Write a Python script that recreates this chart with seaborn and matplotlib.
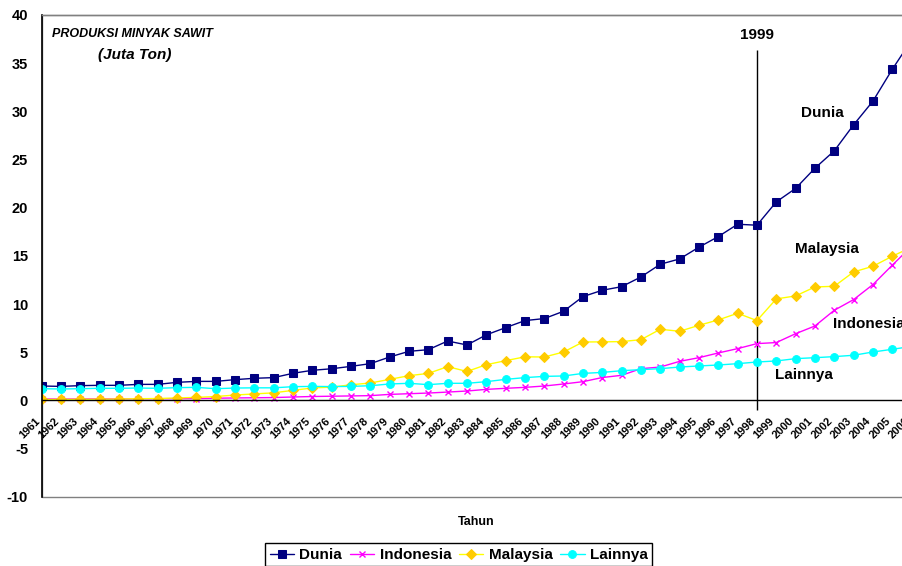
import matplotlib
matplotlib.use("Agg")
import matplotlib.pyplot as plt
import pandas as pd
import seaborn as sns
from matplotlib.patches import Rectangle
from matplotlib.transforms import ScaledTranslation

# Produksi minyak sawit (juta ton), 1961-2006
tahun = list(range(1961, 2007))

dunia = [1.49, 1.45, 1.53, 1.56, 1.56, 1.66, 1.66, 1.87, 1.97, 1.97,
         2.15, 2.29, 2.36, 2.81, 3.12, 3.28, 3.53, 3.81, 4.50, 5.09,
         5.26, 6.16, 5.75, 6.80, 7.55, 8.28, 8.49, 9.25, 10.77, 11.43,
         11.80, 12.81, 14.13, 14.68, 15.90, 17.00, 18.28, 18.18, 20.60, 22.00,
         24.10, 25.90, 28.60, 31.06, 34.36, 37.40]

indonesia = [0.15, 0.14, 0.15, 0.16, 0.16, 0.17, 0.17, 0.18, 0.19, 0.22,
             0.25, 0.27, 0.29, 0.35, 0.40, 0.43, 0.46, 0.49, 0.62, 0.69,
             0.76, 0.86, 0.97, 1.14, 1.25, 1.35, 1.49, 1.70, 1.94, 2.37,
             2.60, 3.29, 3.46, 4.05, 4.43, 4.92, 5.37, 5.89, 6.00, 6.92,
             7.72, 9.35, 10.46, 12.02, 14.03, 16.00]

malaysia = [0.09, 0.10, 0.11, 0.12, 0.14, 0.17, 0.19, 0.25, 0.31, 0.40,
            0.55, 0.67, 0.78, 1.04, 1.29, 1.37, 1.62, 1.80, 2.18, 2.56,
            2.80, 3.50, 3.00, 3.70, 4.12, 4.52, 4.50, 5.02, 6.06, 6.07,
            6.10, 6.30, 7.38, 7.17, 7.79, 8.35, 9.04, 8.28, 10.53, 10.84,
            11.77, 11.84, 13.33, 13.92, 14.96, 15.90]

lainnya = [1.21, 1.18, 1.21, 1.25, 1.25, 1.28, 1.25, 1.32, 1.35, 1.21,
           1.28, 1.30, 1.30, 1.42, 1.45, 1.43, 1.45, 1.52, 1.70, 1.77,
           1.63, 1.77, 1.77, 1.94, 2.18, 2.36, 2.49, 2.53, 2.80, 2.90,
           3.08, 3.19, 3.29, 3.46, 3.57, 3.67, 3.81, 3.98, 4.09, 4.33,
           4.43, 4.54, 4.68, 5.02, 5.30, 5.60]

seri = ["Dunia", "Indonesia", "Malaysia", "Lainnya"]
nilai = [dunia, indonesia, malaysia, lainnya]

y_ticks = list(range(-10, 41, 5))

# garis penanda krisis produksi
tahun_garis = 1998
teks_garis = "1999"

judul = "PRODUKSI MINYAK SAWIT"
satuan = "(Juta Ton)"
label_x = "Tahun"

# label nama seri di dalam grafik: (teks, tahun, nilai)
label_seri = [
    ("Dunia", 2001.4, 29.8, "center"),
    ("Malaysia", 2001.6, 15.7, "center"),
    ("Indonesia", 2001.93, 7.95, "left"),
    ("Lainnya", 2000.45, 2.64, "center"),
]

gaya = {
    "Dunia": dict(color="#000080", marker="s", markersize=5.2,
                  markerfacecolor="#000080", markeredgecolor="#000080"),
    "Indonesia": dict(color="#FF00FF", marker="x", markersize=4.8,
                      markeredgewidth=1.0, markeredgecolor="#FF00FF"),
    "Malaysia": dict(color="#FFFF00", marker="D", markersize=4.8,
                     markerfacecolor="#FFCC00", markeredgecolor="#FFCC00"),
    "Lainnya": dict(color="#00FFFF", marker="o", markersize=5.6,
                    markerfacecolor="#00FFFF", markeredgecolor="#00FFFF"),
}

df = pd.DataFrame({
    "Tahun": tahun * len(seri),
    "Produksi": [v for vals in nilai for v in vals],
    "Seri": [s for s in seri for _ in tahun],
})

sns.set_style("white")
plt.rcParams["font.family"] = ["Liberation Sans", "DejaVu Sans"]
plt.rcParams["font.weight"] = "bold"
plt.rcParams["text.color"] = "black"
plt.rcParams["xtick.color"] = "black"
plt.rcParams["ytick.color"] = "black"

fig = plt.figure(figsize=(9.02, 5.66), dpi=100)
ax = fig.add_axes([0.04623, 0.12244, 0.96441, 0.85106])

garis = []
for s in seri:
    sns.lineplot(data=df[df["Seri"] == s], x="Tahun", y="Produksi", ax=ax,
                 linewidth=1.0, errorbar=None, legend=False, **gaya[s])
    garis.append(ax.lines[-1])

ax.set_xlim(tahun[0], tahun[-1])
ax.set_ylim(y_ticks[0], y_ticks[-1])
ax.set_xlabel("")
ax.set_ylabel("")
ax.grid(False)

# sumbu x memotong pada nilai nol
ax.spines["bottom"].set_position(("data", 0))
ax.spines["bottom"].set_color("black")
ax.spines["bottom"].set_linewidth(1.0)
ax.spines["left"].set_color("black")
ax.spines["left"].set_linewidth(1.2)
ax.spines["right"].set_visible(False)
ax.spines["top"].set_color("#808080")
ax.spines["top"].set_linewidth(1.0)
ax.add_patch(Rectangle((0, 0), 1, 1, transform=ax.transAxes, fill=False,
                       edgecolor="#808080", linewidth=1.0, clip_on=False,
                       zorder=0))

ax.set_yticks(y_ticks)
ax.set_yticklabels([str(v) for v in y_ticks], fontsize=10.5, fontweight="bold")
ax.set_xticks(tahun)
ax.set_xticklabels([str(t) for t in tahun], rotation=45, ha="right", va="top",
                   rotation_mode="anchor", fontsize=8, fontweight="bold")
ax.tick_params(axis="y", direction="inout", length=8, width=1, pad=5.8)
ax.tick_params(axis="x", direction="inout", length=6, width=1, pad=8)
geser = ScaledTranslation(-0.07, 0, fig.dpi_scale_trans)
for lab in ax.get_xticklabels():
    lab.set_transform(lab.get_transform() + geser)

# garis penanda dan teksnya
ax.vlines(tahun_garis, -1.0, 36.4, color="black", linewidth=1.0, clip_on=False,
          zorder=1)
ax.text(tahun_garis, 37.9, teks_garis, ha="center", va="center",
        fontsize=11, fontweight="bold")

for teks, x, y, ha in label_seri:
    ax.text(x, y, teks, ha=ha, va="center", fontsize=11, fontweight="bold",
            clip_on=False)

ax.text(0.0115, 0.9612, judul, transform=ax.transAxes, ha="left", va="center",
        fontsize=9, fontweight="bold", fontstyle="italic")
ax.text(0.0651, 0.917, satuan, transform=ax.transAxes, ha="left", va="center",
        fontsize=11, fontweight="bold", fontstyle="italic")

fig.text(475.7 / 902, (566 - 521.7) / 566, label_x, ha="center", va="center",
         fontsize=9, fontweight="bold")

leg = fig.legend(garis, seri, loc="upper left",
                 bbox_to_anchor=(265 / 902, (566 - 543.3) / 566), ncol=4,
                 frameon=True, fancybox=False, framealpha=1, edgecolor="black",
                 prop={"size": 11, "weight": "bold"}, handlelength=1.6,
                 handletextpad=0.35, columnspacing=0.5, borderpad=0.3,
                 borderaxespad=0, numpoints=1)
leg.get_frame().set_linewidth(1.0)

fig.savefig("out.png", dpi=100)
